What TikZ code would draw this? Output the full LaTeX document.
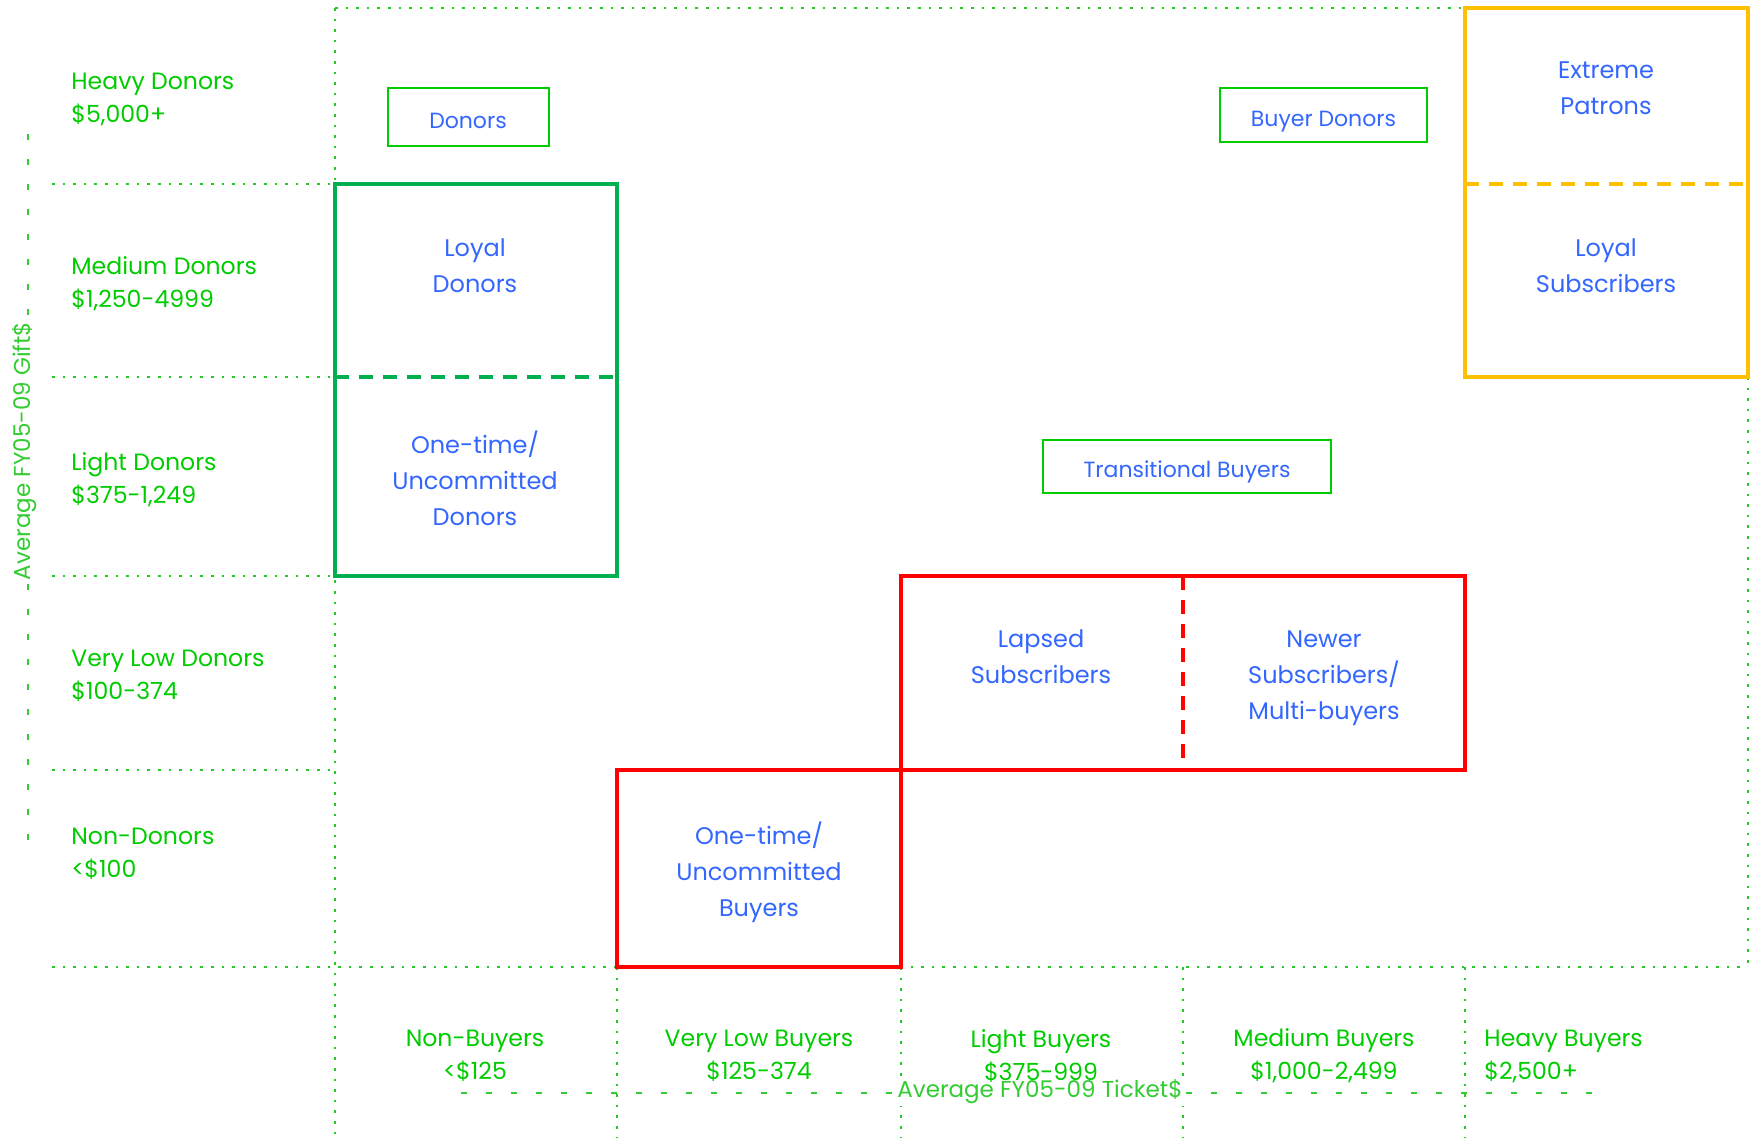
\documentclass[tikz,border=0pt]{standalone}
\usepackage{fontspec}
\setmainfont{Poppins}
\definecolor{gtext}{RGB}{0,204,0}
\definecolor{gdot}{RGB}{40,200,40}
\definecolor{gaxis}{RGB}{51,204,51}
\definecolor{btext}{RGB}{51,102,255}
\definecolor{gbox}{RGB}{0,176,80}
\definecolor{obox}{RGB}{255,192,0}
\definecolor{rbox}{RGB}{255,0,0}
\begin{document}
\begin{tikzpicture}[x=0.5pt,y=-0.5pt,
  dotl/.style={draw=gdot, line width=1.3pt, dash pattern=on 1.3pt off 4pt},
  axisl/.style={draw=gaxis, line width=1pt, dash pattern=on 3pt off 9.5pt},
  lbl/.style={text=gtext, font=\fontsize{11.8}{16.5}\selectfont, align=left, anchor=west, inner sep=0pt},
  collbl/.style={text=gtext, font=\fontsize{11.8}{16.5}\selectfont, align=center, inner sep=0pt},
  axtxt/.style={text=gaxis, font=\fontsize{11.5}{13}\selectfont, fill=white, inner sep=1pt},
  seg/.style={text=btext, font=\fontsize{12}{18}\selectfont, align=center, inner sep=0pt},
  smallbox/.style={draw=gtext, line width=1pt, text=btext, font=\fontsize{11}{13}\selectfont, inner sep=0pt, text height=12pt, text depth=1pt},
  bigbox/.style={line width=1.8pt},
  divl/.style={line width=1.8pt, dash pattern=on 7pt off 5pt}
]
\useasboundingbox (0,0) rectangle (1750,1137);
% grid (dotted)
\draw[dotl] (335,8) -- (1465,8);
\draw[dotl] (52,184) -- (335,184);
\draw[dotl] (52,377) -- (335,377);
\draw[dotl] (52,576) -- (335,576);
\draw[dotl] (52,770) -- (335,770);
\draw[dotl] (52,967) -- (1748,967);
\draw[dotl] (335,8) -- (335,1137);
\draw[dotl] (617,967) -- (617,1137);
\draw[dotl] (901,967) -- (901,1137);
\draw[dotl] (1183,967) -- (1183,1137);
\draw[dotl] (1465,967) -- (1465,1137);
\draw[dotl] (1748,377) -- (1748,967);
% axes
\coordinate (ya) at (28,134);
\coordinate (yb) at (28,842);
\draw[axisl] (ya) -- (yb);
\node[axtxt, rotate=90] (ylab) at (25,451) {Average FY05-09 Gift\$};
\coordinate (xa) at (461,1093);
\coordinate (xb) at (1592,1093);
\draw[axisl] (xa) -- (xb);
\node[axtxt] (xlab) at (1040,1092) {Average FY05-09 Ticket\$};
% row labels
\node[lbl] (r1) at (71,99) {Heavy Donors\\\$5,000+};
\node[lbl] (r2) at (71,284) {Medium Donors\\\$1,250-4999};
\node[lbl] (r3) at (71,480) {Light Donors\\\$375-1,249};
\node[lbl] (r4) at (71,676) {Very Low Donors\\\$100-374};
\node[lbl] (r5) at (71,854) {Non-Donors\\<\$100};
% column labels
\node[collbl] (c1) at (475,1056) {Non-Buyers\\<\$125};
\node[collbl] (c2) at (759,1056) {Very Low Buyers\\\$125-374};
\node[collbl] (c3) at (1041,1056) {Light Buyers\\\$375-999};
\node[collbl] (c4) at (1324,1056) {Medium Buyers\\\$1,000-2,499};
\node[collbl, anchor=west, align=left] (c5) at (1484,1056) {Heavy Buyers\\\$2,500+};
% small boxes
\node[smallbox, minimum width=80.5pt, minimum height=29pt] (donors) at (468,117) {Donors};
\node[smallbox, minimum width=103.5pt, minimum height=27pt] (buyerdonors) at (1323.5,115) {Buyer Donors};
\node[smallbox, minimum width=144pt, minimum height=26.5pt] (trans) at (1187,466.5) {Transitional Buyers};
% green box
\draw[bigbox, draw=gbox] (335,184) rectangle (617,576);
\draw[divl, draw=gbox] (335,377) -- (617,377);
\node[seg] (loyaldonors) at (475,266) {Loyal\\Donors};
\node[seg] (onetimedonors) at (475,478) {One-time/\\Uncommitted\\Donors};
% orange box
\draw[bigbox, draw=obox] (1465,8) rectangle (1748,377);
\draw[divl, draw=obox] (1465,184) -- (1748,184);
\node[seg] (extreme) at (1606,88) {Extreme\\Patrons};
\node[seg] (loyalsubs) at (1606,266) {Loyal\\Subscribers};
% red boxes
\draw[bigbox, draw=rbox] (901,576) rectangle (1465,770);
\draw[divl, draw=rbox] (1183,576) -- (1183,770);
\draw[bigbox, draw=rbox] (617,770) rectangle (901,967);
\node[seg] (lapsed) at (1041,657) {Lapsed\\Subscribers};
\node[seg] (newer) at (1324,678) {Newer\\Subscribers/\\Multi-buyers};
\node[seg] (onetimebuyers) at (759,872) {One-time/\\Uncommitted\\Buyers};
\end{tikzpicture}
\end{document}
